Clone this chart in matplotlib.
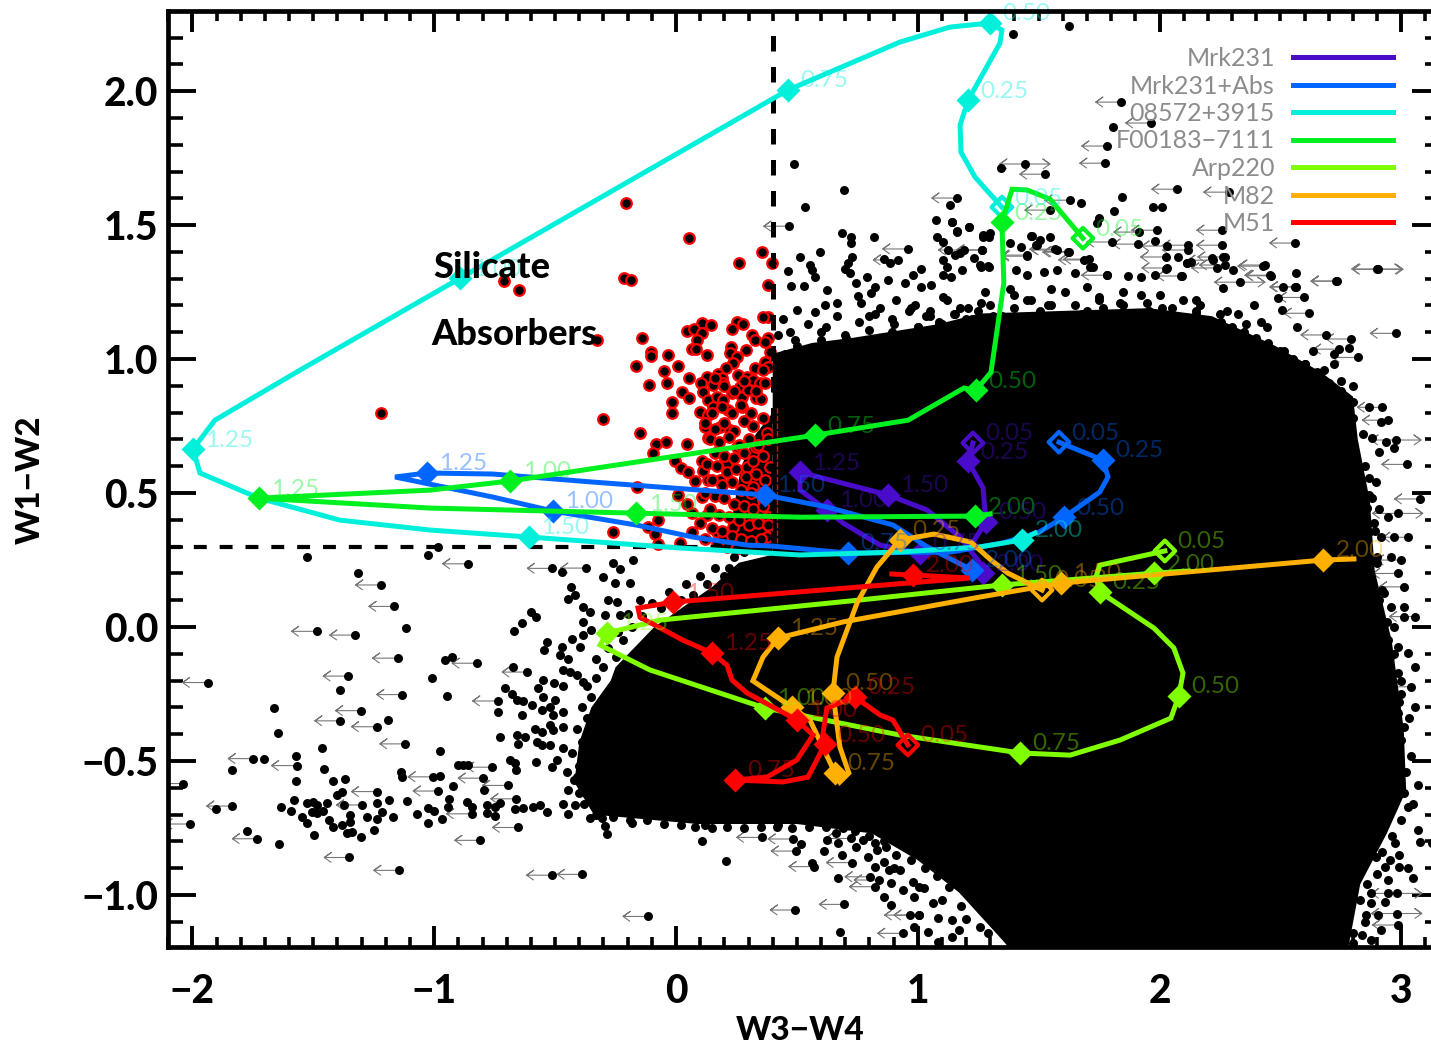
import matplotlib
matplotlib.use('Agg')
import matplotlib.pyplot as plt
from matplotlib.path import Path

# tracks: line vertices, then the labelled diamonds along them
purple_x = [1.228, 1.208, 1.27, 1.282, 1.228, 1.175, 1.009, 0.844, 0.691, 0.624, 0.513, 0.513, 0.877, 1.038, 1.175, 1.257, 1.27]
purple_y = [0.687, 0.619, 0.519, 0.392, 0.317, 0.285, 0.276, 0.306, 0.388, 0.437, 0.511, 0.578, 0.493, 0.437, 0.336, 0.239, 0.201]
purple_mx = [1.228, 1.208, 1.282, 1.009, 0.624, 0.513, 0.877, 1.27]
purple_my = [0.687, 0.619, 0.392, 0.276, 0.437, 0.578, 0.493, 0.201]

blue_x = [1.584, 1.766, 1.787, 1.753, 1.605, 1.501, 1.348, 1.137, 0.711, 0.401, 0.294, 0.07, -0.16, -0.509, -0.757, -1.162, -1.03, -0.757, -0.343, 0.368, 0.624, 0.897, 1.038, 1.224]
blue_y = [0.69, 0.623, 0.56, 0.504, 0.41, 0.354, 0.313, 0.28, 0.276, 0.302, 0.306, 0.336, 0.38, 0.433, 0.485, 0.56, 0.575, 0.571, 0.541, 0.493, 0.448, 0.381, 0.3, 0.213]
blue_mx = [1.584, 1.766, 1.605, 0.711, -0.509, -1.03, 0.368, 1.224]
blue_my = [0.69, 0.623, 0.41, 0.276, 0.433, 0.575, 0.493, 0.213]

cyan_x = [1.348, 1.237, 1.179, 1.175, 1.208, 1.34, 1.348, 1.299, 1.133, 0.926, 0.463, -0.893, -1.555, -1.907, -1.998, -1.969, -1.725, -1.39, -1.017, -0.608, 0.017, 0.513, 0.926, 1.257, 1.431, 1.485]
cyan_y = [1.567, 1.679, 1.772, 1.873, 1.966, 2.179, 2.228, 2.254, 2.239, 2.183, 2.004, 1.302, 0.959, 0.772, 0.664, 0.575, 0.481, 0.399, 0.362, 0.336, 0.295, 0.269, 0.28, 0.299, 0.325, 0.351]
cyan_mx = [1.348, 1.208, 1.299, 0.463, -0.893, -1.998, -0.608, 1.431]
cyan_my = [1.567, 1.966, 2.254, 2.004, 1.302, 0.664, 0.336, 0.325]

green_x = [1.683, 1.547, 1.452, 1.39, 1.348, 1.356, 1.303, 1.241, 1.191, 0.96, 0.575, -0.686, -1.017, -1.725, -1.017, -0.165, 0.513, 1.237, 1.299]
green_y = [1.451, 1.597, 1.631, 1.634, 1.511, 1.284, 0.951, 0.884, 0.892, 0.772, 0.716, 0.545, 0.511, 0.481, 0.444, 0.425, 0.41, 0.414, 0.422]
green_mx = [1.683, 1.348, 1.241, 0.575, -0.686, -1.725, -0.165, 1.237]
green_my = [1.451, 1.511, 0.884, 0.716, 0.545, 0.481, 0.425, 0.414]

lime_x = [2.022, 1.753, 1.737, 1.753, 1.977, 2.059, 2.097, 2.08, 2.047, 1.836, 1.63, 1.423, 0.926, 0.368, -0.108, -0.314, -0.285, -0.066, 0.761, 1.348, 1.977, 2.117]
lime_y = [0.284, 0.231, 0.187, 0.131, -0.004, -0.078, -0.172, -0.257, -0.34, -0.422, -0.478, -0.47, -0.403, -0.302, -0.16, -0.067, -0.022, 0.026, 0.101, 0.157, 0.201, 0.209]
lime_mx = [2.022, 1.753, 2.08, 1.423, 0.368, -0.285, 1.348, 1.977]
lime_my = [0.284, 0.131, -0.257, -0.47, -0.302, -0.022, 0.157, 0.201]

orange_x = [1.514, 1.373, 1.303, 1.22, 1.067, 0.926, 0.831, 0.749, 0.666, 0.649, 0.678, 0.715, 0.678, 0.658, 0.554, 0.48, 0.318, 0.36, 0.422, 0.691, 1.257, 1.592, 2.676, 2.804]
orange_y = [0.138, 0.201, 0.25, 0.317, 0.347, 0.325, 0.224, 0.09, -0.112, -0.246, -0.448, -0.545, -0.578, -0.545, -0.347, -0.299, -0.201, -0.112, -0.041, 0.019, 0.112, 0.164, 0.25, 0.254]
orange_mx = [1.514, 0.926, 0.649, 0.658, 0.48, 0.422, 1.592, 2.676]
orange_my = [0.138, 0.325, -0.246, -0.545, -0.299, -0.041, 0.164, 0.25]

red_x = [0.959, 0.897, 0.844, 0.74, 0.624, 0.604, 0.616, 0.546, 0.443, 0.244, 0.376, 0.5, 0.567, 0.5, 0.294, 0.232, 0.211, 0.149, 0.029, -0.149, -0.157, -0.012, 1.216, 0.98, 0.893]
red_y = [-0.44, -0.347, -0.328, -0.261, -0.302, -0.422, -0.437, -0.56, -0.578, -0.571, -0.56, -0.496, -0.403, -0.347, -0.246, -0.198, -0.142, -0.097, -0.049, 0.037, 0.071, 0.093, 0.183, 0.194, 0.198]
red_mx = [0.959, 0.74, 0.616, 0.244, 0.5, 0.149, -0.012, 0.98]
red_my = [-0.44, -0.261, -0.437, -0.571, -0.347, -0.097, 0.093, 0.194]

track_names = ['Mrk231', 'Mrk231+Abs', '08572+3915', 'F00183\u22127111', 'Arp220', 'M82', 'M51']
track_colors = ['#4A0CCB', '#0066FF', '#00F0DC', '#00F020', '#80FF00', '#FFB000', '#FF0000']
step_labels = ['0.05', '0.25', '0.50', '0.75', '1.00', '1.25', '1.50', '2.00']

# solid part of the source cloud, outline
cloud_x = [0.4, 0.562, 0.736, 1.084, 1.257, 1.609, 1.956, 2.217, 2.477, 2.67, 2.8, 2.82, 2.87, 2.89, 2.96, 3.01, 3.02, 2.94, 2.83, 2.78, 1.38, 1.35, 1.17, 1.0, 0.81, 0.5, 0.09, -0.34, -0.42, -0.4, -0.35, -0.27, -0.25, -0.09, 0.15, 0.26, 0.4]
cloud_y = [1.02, 1.06, 1.08, 1.13, 1.17, 1.18, 1.19, 1.16, 1.05, 0.95, 0.86, 0.7, 0.47, 0.21, -0.05, -0.38, -0.61, -0.77, -0.96, -1.2, -1.2, -1.168, -0.99, -0.87, -0.77, -0.735, -0.735, -0.7, -0.58, -0.43, -0.3, -0.2, -0.15, 0.0, 0.15, 0.24, 0.27]
core_x = [0.4, 0.33, 0.27, 0.24, 0.22, 0.3, 0.4]
core_y = [0.8, 0.72, 0.6, 0.45, 0.33, 0.28, 0.28]
red_edge_x = [0.418, 0.418]
red_edge_y = [0.313, 0.82]

# sources with an upper limit, arrow to the left
lim_x = [-0.861, -0.511, -0.373, -1.221, -1.166, -1.486, -1.328, -1.151, -0.822, -0.615, -1.937, -1.355, -1.134, -0.737, -1.304, -1.39, -1.238, -1.121, -1.748, -1.569, -0.762, -0.797, -1.004, -0.696, -1.238, -0.983, -1.837, -2.01, -1.731, -1.351, -1.146, -0.811, -0.655, -0.514, -0.387, -0.115, -1.3, -0.845, -0.662, -2.04,
         1.84, 1.964, 1.782, 1.774, 1.526, 2.072, 2.287, 1.629, 1.547, 1.162, 2.258, 2.56, 1.989, 1.915, 2.258, 2.73, 2.56, 2.428, 2.457, 2.27, 2.237, 2.262, 2.221, 2.117, 2.117, 2.031, 2.026, 2.031, 2.093, 1.782, 1.708, 1.621, 1.567, 1.452, 1.266, 1.803, 1.911,
         0.467, 0.959, 0.92, 1.19, 1.264, 1.452, 1.574, 1.626, 1.687, 2.436, 2.462, 2.563, 2.598, 2.619, 2.689, 2.793, 2.741, 2.819, 2.732, 2.976,
         2.922, 2.943, 3.023, 3.076, 3.027, 3.0, 3.013, 2.985, 3.055, 2.985, 3.04, 2.955,
         0.355, 0.485, 0.498, 0.571, 0.494, 0.697, 0.726, 0.722, 0.803, 0.841, 0.822, 0.967, 0.938, 1.005, 2.985]
lim_y = [0.236, 0.219, 0.22, 0.157, 0.077, -0.016, -0.03, -0.116, -0.135, -0.168, -0.207, -0.183, -0.252, -0.276, -0.312, -0.35, -0.372, -0.436, -0.491, -0.517, -0.523, -0.564, -0.559, -0.591, -0.614, -0.612, -0.668, -0.735, -0.79, -0.86, -0.908, -0.796, -0.748, -0.926, -0.923, -1.08, -0.664, -0.697, -0.641, -0.584,
         1.959, 1.881, 1.795, 1.731, 1.69, 1.634, 1.623, 1.593, 1.556, 1.601, 1.481, 1.433, 1.481, 1.474, 1.425, 1.291, 1.269, 1.347, 1.313, 1.351, 1.34, 1.381, 1.369, 1.425, 1.407, 1.422, 1.381, 1.34, 1.31, 1.313, 1.373, 1.399, 1.41, 1.384, 1.407, 1.437, 1.429,
         1.496, 1.411, 1.37, 1.407, 1.407, 1.388, 1.407, 1.401, 1.37, 1.351, 1.311, 1.27, 1.23, 1.171, 1.09, 1.075, 1.037, 1.006, 1.291, 1.096,
         0.82, 0.772, 0.607, 0.478, 0.335, 0.25, 0.15, 0.2, 0.039, -0.173, -0.223, -0.111,
         -0.785, -0.791, -0.836, -0.894, -1.056, -1.035, -0.879, -0.789, -0.932, -0.944, -0.969, -1.075, -1.143, -1.075, -1.112]
both_x = [2.899, 2.903, 2.978, 2.985, 2.981, 2.981, 1.443, 2.332]
both_y = [1.336, 1.335, 0.698, 0.424, -0.994, -1.069, 1.728, 1.287]

# plain detections around the solid cloud
pts_x = [-1.525, -1.314, -1.027, -0.983, -1.117, -0.955, -0.926, -1.008, -0.948, -1.39, -1.663, -1.647, -1.19, -1.465, -1.703, -1.573, -1.837, -1.454, -1.573, -1.417, -1.369, -1.137, -1.133, -0.976, -0.976, -0.921, -1.579, -1.634, -1.593, -1.904, -1.773, -1.643, -1.497, -1.304, -1.114,
         -1.527, -1.5, -1.486, -1.506, -1.486, -1.444, -1.458, -1.548, -1.527, -1.437, -1.417, -1.382, -1.403, -1.382, -1.375, -1.348, -1.348, -1.362, -1.341, -1.279, -1.238, -1.217, -1.249, -1.235, -1.171, -1.189,
         -1.072, -1.024, -1.0, -1.024, -0.969, -0.938, -0.941, -0.865, -0.845, -0.796, -0.783, -0.748, -0.783, -0.748, -0.727, -0.666, -0.631, -0.59, -0.562, -0.534, -0.466, -0.417, -0.445, -0.355, -0.304, -0.284, -0.293,
         -0.9, -0.879, -0.859, -0.686, -0.665, -0.663, -0.727, -0.659, -0.624, -0.654, -0.579, -0.672, -0.635, -0.601, -0.58, -0.675, -0.707, -0.679, -0.659, -0.631, -0.597, -0.738, -0.638,
         -0.544, -0.532, -0.473, -0.397, -0.479, -0.445, -0.431, -0.383, -0.353, -0.383, -0.445, -0.417, -0.433, -0.383, -0.355, -0.3, -0.252, -0.259, -0.231, -0.176, -0.47, -0.28, -0.245, -0.293, -0.231, -0.19, -0.466, -0.438, -0.504, -0.569, -0.548, -0.466, -0.41, -0.383, -0.548, -0.5, -0.521, -0.555, -0.507, -0.466, -0.583, -0.555, -0.521, -0.466, -0.507, -0.576, -0.555, -0.521, -0.466, -0.493, -0.514, -0.452, -0.41, -0.445, -0.348, -0.328, -0.217, -0.183, -0.245,
         1.394, 1.625, 1.807, 1.344, 1.973, 2.01, 1.811, 1.675, 1.133, 1.749, 1.741, 2.076, 2.113, 1.981, 1.725, 1.27, 1.299, 1.212, 1.141, 1.162, 1.472, 1.493, 1.381, 1.121, 1.175, 1.257, 1.29, 1.844,
         0.49, 0.694, 0.532, 0.685, 0.723, 0.723, 0.821, 0.595, 0.514, 0.859, 0.886, 0.729, 0.711, 0.699, 0.72, 0.555, 0.563, 0.577, 0.462, 0.476, 0.528, 0.624, 0.746, 0.751, 0.79, 0.825, 0.807, 0.877, 0.947, 1.013, 1.056, 0.981, 1.013, 0.502, 0.577, 0.615, 0.668, 1.077, 1.142, 1.081, 1.103, 1.126, 1.156, 1.213, 1.164, 1.103, 1.234, 1.295, 1.269, 1.425, 1.469, 1.504, 1.548, 1.487, 1.103, 1.138, 1.182, 1.26, 1.295,
         1.408, 1.452, 1.521, 1.574, 1.652, 1.713, 1.783, 1.87, 1.922, 1.983, 2.027, 2.088, 2.114, 2.131, 2.218, 2.27, 2.305, 2.511, 2.563, 2.262, 2.488, 2.506, 2.785,
         0.764, 0.842, 0.912, 0.99, 1.051, 1.103, 1.173, 1.26, 1.399, 1.469, 1.539, 1.609, 1.748, 1.835, 1.922, 2.009, 2.096, 2.166, 2.323, 2.392,
         0.441, 0.546, 0.668, 0.755, 0.825, 0.894, 0.964, 1.034, 1.086, 1.156, 1.208, 1.312, 1.504, 1.591, 1.678, 1.765, 1.87, 1.957, 2.061, 2.149, 2.253, 2.358, 2.445, 2.567,
         0.424, 0.493, 0.598, 0.703, 0.79, 0.894, 0.999, 1.086, 1.225, 2.2, 2.305, 2.41, 2.515, 2.636, 2.72, 2.6, 2.68, 2.75,
         2.866, 2.915, 2.936, 2.88, 2.908, 2.971, 2.894, 2.866, 2.866, 2.908, 2.859, 2.943, 2.887, 2.971, 2.915, 2.866, 2.957, 2.9, 2.929, 2.908, 2.957, 3.013, 2.971, 3.013, 2.943, 2.985, 3.027, 3.055, 3.0, 3.055, 2.985, 3.013,
         3.068, 3.01, 3.029, 3.068, 3.126, 3.078, 2.972, 2.991, 3.029, 3.049, 2.943, 2.875, 2.943, 2.875, 2.933, 2.904, 2.856, 2.914, 2.875, 2.837, 2.933, 2.894, 2.952,
         0.118, 0.109, 0.205, 0.417, 0.519, 0.614, 0.623, 0.562, 0.672, 0.677, 0.662, 0.672, 0.687, 0.745, 0.774, 0.822, 0.832, 0.87, 0.793, 0.822, 0.861, 0.88, 0.928, 0.89, 0.938, 0.986, 0.861, 0.89, 1.024, 1.063, 1.005, 1.082, 0.986, 1.044, 1.082, 1.14, 1.169, 1.14, 1.256, 1.005]
pts_y = [0.262, 0.2, 0.27, 0.3, -0.004, -0.124, -0.11, -0.19, -0.258, -0.235, -0.301, -0.396, -0.348, -0.45, -0.494, -0.481, -0.532, -0.531, -0.574, -0.575, -0.566, -0.54, -0.559, -0.462, -0.555, -0.595, -0.646, -0.671, -0.687, -0.68, -0.761, -0.808, -0.777, -0.782, -0.649,
         -0.656, -0.652, -0.664, -0.689, -0.695, -0.658, -0.687, -0.708, -0.733, -0.72, -0.745, -0.739, -0.627, -0.614, -0.664, -0.702, -0.726, -0.77, -0.766, -0.708, -0.658, -0.692, -0.757, -0.716, -0.708, -0.646,
         -0.698, -0.674, -0.685, -0.733, -0.718, -0.642, -0.673, -0.652, -0.67, -0.608, -0.664, -0.67, -0.695, -0.705, -0.658, -0.68, -0.677, -0.67, -0.664, -0.689, -0.662, -0.664, -0.699, -0.711, -0.714, -0.773, -0.743,
         -0.515, -0.515, -0.515, -0.496, -0.509, -0.534, -0.409, -0.403, -0.409, -0.438, -0.503, -0.015, 0.016, 0.057, 0.036, -0.149, -0.229, -0.251, -0.272, -0.276, -0.291, -0.318, -0.328,
         -0.086, -0.055, -0.073, -0.073, -0.105, -0.119, -0.045, -0.03, -0.011, 0.02, 0.103, 0.12, 0.15, 0.076, 0.057, 0.185, 0.165, 0.24, 0.215, 0.25, 0.204, 0.101, 0.095, 0.045, 0.045, 0.163, -0.16, -0.167, -0.207, -0.226, -0.198, -0.219, -0.179, -0.204, -0.262, -0.272, -0.297, -0.31, -0.328, -0.316, -0.382, -0.393, -0.366, -0.372, -0.384, -0.43, -0.44, -0.44, -0.453, -0.496, -0.521, -0.54, -0.558, -0.608, -0.608, -0.683, -0.689, -0.73, -0.67,
         2.213, 2.243, 1.866, 1.713, 1.567, 1.567, 1.552, 1.582, 1.575, 1.526, 1.507, 1.381, 1.358, 1.44, 1.343, 1.455, 1.47, 1.493, 1.511, 1.474, 1.459, 1.425, 1.433, 1.343, 1.396, 1.351, 1.347, 1.604,
         1.728, 1.631, 1.566, 1.469, 1.454, 1.432, 1.454, 1.401, 1.382, 1.373, 1.357, 1.382, 1.357, 1.338, 1.322, 1.351, 1.332, 1.307, 1.33, 1.273, 1.273, 1.258, 1.283, 1.235, 1.307, 1.268, 1.248, 1.295, 1.285, 1.27, 1.275, 1.314, 1.335, 1.183, 1.174, 1.202, 1.208, 1.519, 1.513, 1.454, 1.438, 1.407, 1.388, 1.494, 1.479, 1.37, 1.376, 1.457, 1.463, 1.417, 1.459, 1.444, 1.454, 1.425, 1.314, 1.307, 1.332, 1.345, 1.345,
         1.332, 1.314, 1.326, 1.332, 1.32, 1.345, 1.314, 1.31, 1.307, 1.314, 1.338, 1.31, 1.357, 1.363, 1.376, 1.382, 1.332, 1.27, 1.322, 1.266, 1.229, 1.183, 1.04,
         1.21, 1.19, 1.22, 1.2, 1.18, 1.23, 1.19, 1.21, 1.24, 1.22, 1.2, 1.25, 1.23, 1.21, 1.24, 1.19, 1.22, 1.2, 1.17, 1.2,
         1.15, 1.13, 1.16, 1.14, 1.17, 1.15, 1.18, 1.16, 1.14, 1.17, 1.19, 1.16, 1.18, 1.15, 1.17, 1.19, 1.16, 1.18, 1.15, 1.17, 1.14, 1.13, 1.12, 1.12,
         1.09, 1.07, 1.1, 1.08, 1.06, 1.1, 1.12, 1.13, 1.15, 1.09, 1.07, 1.05, 1.03, 1.03, 1.02, 0.98, 0.96, 0.92,
         0.822, 0.766, 0.692, 0.704, 0.654, 0.667, 0.542, 0.555, 0.492, 0.439, 0.443, 0.412, 0.387, 0.335, 0.337, 0.356, 0.262, 0.262, 0.126, 0.1, 0.076, 0.076, 0.001, 0.039, -0.049, -0.073, -0.098, -0.148, -0.248, -0.297, -0.322, -0.372,
         -0.59, -0.621, -0.67, -0.758, -0.807, -0.801, -0.807, -0.894, -0.901, -0.938, -0.944, -0.994, -0.994, -1.031, -1.025, -1.075, -1.075, -1.131, -1.168, -1.149, -0.894, -0.857, -0.869,
         -0.739, -0.799, -0.872, -0.748, -0.81, -0.835, -0.795, -0.882, -0.938, -1.137, -0.768, -0.807, -0.851, -0.82, -0.795, -0.807, -0.832, -0.82, -0.857, -0.897, -0.876, -0.907, -0.907, -0.957, -0.981, -1.006, -1.006, -1.037, -0.975, -1.031, -1.075, -1.087, -1.118, -1.137, -1.174, -1.093, -1.131, -1.156, -1.118, -0.969]

# crowded points hugging the edge of the solid cloud
edge_x = [0.45, 0.5, 0.55, 0.6, 0.65, 0.7, 0.75, 0.8, 0.85, 0.9, 0.95, 1.0, 1.05, 1.1, 1.15, 1.2, 1.25, 1.3, 1.35, 1.4, 1.45, 1.5, 1.55, 1.6, 1.65, 1.7, 1.75, 1.8, 1.85, 1.9, 1.95, 2.0, 2.05, 2.1, 2.15, 2.2, 2.25, 2.3, 2.35, 2.4, 2.45, 2.5, 2.55, 2.6, 2.65, 2.7, 2.75, 2.8, 2.72, 2.8,
          0.47, 0.62, 0.8, 0.97, 1.12, 1.28, 1.38, 1.55, 1.7, 1.85, 2.0, 2.15, 2.28, 2.42,
          2.8, 2.84, 2.79, 2.85, 2.83, 2.88, 2.84, 2.89, 2.85, 2.9, 2.87, 2.92, 2.88, 2.94, 2.92, 2.97, 2.95, 3.0, 2.99, 3.03, 3.0, 3.04, 3.02, 3.05, 3.0, 2.96, 2.99, 2.92, 2.9, 2.86, 2.83, 2.85, 2.8, 2.78, 2.8,
          1.4, 1.34, 1.29, 1.3, 1.24, 1.18, 1.2, 1.13, 1.08, 1.1, 1.03, 0.97, 0.98, 0.91, 0.86, 0.9, 0.8, 0.74, 0.69, 0.62, 0.55, 0.48, 0.42, 0.35, 0.28, 0.21, 0.15, 0.08, 0.02, -0.05, -0.12, -0.19, -0.26, -0.33, -0.38,
          -0.4, -0.42, -0.4, -0.43, -0.39, -0.41, -0.37, -0.39, -0.35, -0.37, -0.33, -0.3, -0.33, -0.28, -0.25, -0.22, -0.24, -0.18, -0.2, -0.14, -0.1, -0.15, -0.06, -0.03, 0.02, 0.04, 0.07, 0.1, 0.13, 0.16, 0.2, 0.24, 0.22, 0.28, -0.34, -0.36, -0.3, -0.28]
edge_y = [1.02, 1.05, 1.0, 1.07, 1.03, 1.09, 1.06, 1.11, 1.07, 1.13, 1.09, 1.12, 1.16, 1.13, 1.17, 1.15, 1.18, 1.2, 1.16, 1.19, 1.22, 1.17, 1.2, 1.16, 1.2, 1.18, 1.22, 1.17, 1.2, 1.17, 1.21, 1.16, 1.19, 1.15, 1.18, 1.14, 1.17, 1.12, 1.1, 1.08, 1.06, 1.03, 1.0, 0.98, 0.95, 0.91, 0.88, 0.84, 0.98, 0.9,
          1.1, 1.12, 1.16, 1.19, 1.22, 1.25, 1.26, 1.26, 1.27, 1.25, 1.24, 1.22, 1.18, 1.14,
          0.78, 0.72, 0.66, 0.6, 0.54, 0.48, 0.42, 0.36, 0.3, 0.24, 0.18, 0.14, 0.08, 0.02, -0.04, -0.1, -0.16, -0.2, -0.28, -0.34, -0.42, -0.48, -0.54, -0.66, -0.72, -0.78, -0.85, -0.84, -0.92, -0.96, -1.02, -1.1, -1.14, -1.06, -1.18,
          -1.12, -1.07, -1.14, -1.03, -1.0, -1.04, -1.09, -0.97, -0.93, -1.02, -0.9, -0.87, -0.95, -0.85, -0.8, -0.9, -0.78, -0.76, -0.75, -0.745, -0.745, -0.75, -0.74, -0.745, -0.75, -0.745, -0.75, -0.745, -0.74, -0.735, -0.72, -0.72, -0.71, -0.7, -0.66,
          -0.62, -0.57, -0.52, -0.47, -0.43, -0.38, -0.34, -0.3, -0.26, -0.22, -0.19, -0.15, -0.12, -0.08, -0.11, -0.05, -0.02, 0.0, 0.05, 0.04, 0.09, 0.1, 0.07, 0.13, 0.1, 0.16, 0.12, 0.19, 0.16, 0.22, 0.19, 0.26, 0.22, 0.28, -0.5, -0.6, -0.4, -0.27]

# red = silicate absorber candidates, left of the dashed line
red_pts_x = [-1.22, -0.207, 0.052, 0.354, 0.262, 0.398, -0.215, -0.188, -0.71, -0.65, 0.382, 0.382, 0.361, 0.106, 0.143, 0.044, 0.075, 0.106, 0.251, 0.278, 0.23, -0.142, -0.328, 0.313, 0.327, 0.382, 0.368, 0.085, 0.065, 0.082, -0.105, -0.105, -0.035, 0.127, 0.226, 0.223, 0.289, 0.251, 0.237, 0.389, -0.166, 0.007, -0.05, 0.207, 0.368, 0.382, 0.175, 0.189, 0.196, 0.129, 0.103, 0.154, 0.052, -0.039, -0.113, 0.258, 0.292, 0.327, 0.361, 0.023, 0.055, 0.11, -0.018, -0.015, -0.301, 0.099, 0.133, 0.168, 0.23, 0.264, 0.32, 0.347, 0.333, 0.271, 0.299, 0.196, 0.216, 0.275, 0.133, 0.154,
             -0.149, -0.083, -0.042, -0.097, 0.044, -0.004, 0.02, 0.051, 0.078, 0.106, 0.113, 0.133, 0.133, 0.12, 0.182, -0.16, 0.009, 0.044, 0.106, 0.127, 0.182, 0.209, 0.251, 0.292, 0.333, 0.223, 0.065, 0.065, -0.073, -0.115, -0.087, -0.259, -0.073, 0.016, 0.168, 0.195, 0.237, 0.292, 0.361, 0.375, 0.388, 0.375, 0.38, 0.32,
             0.12, 0.16, 0.2, 0.24, 0.28, 0.32, 0.36, 0.14, 0.18, 0.22, 0.26, 0.3, 0.34, 0.38, 0.16, 0.2, 0.24, 0.28, 0.32, 0.36, 0.13, 0.17, 0.21, 0.25, 0.29, 0.33, 0.37, 0.15, 0.19, 0.23, 0.27, 0.31, 0.35, 0.12, 0.16, 0.2, 0.24, 0.28, 0.32, 0.36, 0.14, 0.18, 0.22, 0.26, 0.3, 0.34, 0.38, 0.1, 0.15, 0.19, 0.23, 0.27, 0.31, 0.35, 0.12, 0.17, 0.21, 0.25, 0.15, 0.19, 0.23, 0.27, 0.31, 0.35, 0.2, 0.24, 0.28, 0.33, 0.37, 0.16]
red_pts_y = [0.8, 1.581, 1.452, 1.401, 1.36, 1.36, 1.301, 1.297, 1.291, 1.258, 1.275, 1.158, 1.158, 1.136, 1.127, 1.106, 1.112, 1.096, 1.137, 1.131, 1.112, 1.08, 1.071, 1.09, 1.071, 1.077, 1.065, 1.071, 1.036, 1.036, 1.027, 1.011, 1.015, 1.015, 1.046, 1.021, 1.034, 1.009, 0.984, 1.027, 0.976, 0.974, 0.957, 0.965, 0.99, 0.971, 0.944, 0.928, 0.912, 0.934, 0.912, 0.903, 0.929, 0.909, 0.903, 0.94, 0.934, 0.965, 0.959, 0.878, 0.853, 0.878, 0.841, 0.8, 0.775, 0.804, 0.847, 0.86, 0.872, 0.897, 0.922, 0.909, 0.853, 0.86, 0.884, 0.847, 0.81, 0.82, 0.791, 0.822,
             0.726, 0.683, 0.689, 0.648, 0.682, 0.619, 0.592, 0.58, 0.545, 0.619, 0.582, 0.548, 0.704, 0.747, 0.747, 0.524, 0.492, 0.461, 0.486, 0.418, 0.548, 0.611, 0.673, 0.598, 0.673, 0.735, 0.424, 0.356, 0.399, 0.374, 0.349, 0.353, 0.31, 0.312, 0.356, 0.337, 0.374, 0.399, 0.474, 0.337, 0.598, 0.723, 0.412, 0.524,
             0.76, 0.74, 0.76, 0.73, 0.77, 0.75, 0.78, 0.7, 0.69, 0.71, 0.68, 0.7, 0.68, 0.7, 0.65, 0.64, 0.63, 0.65, 0.62, 0.64, 0.61, 0.6, 0.58, 0.59, 0.56, 0.57, 0.55, 0.55, 0.53, 0.54, 0.51, 0.5, 0.5, 0.5, 0.49, 0.48, 0.46, 0.45, 0.44, 0.45, 0.44, 0.42, 0.41, 0.4, 0.38, 0.39, 0.38, 0.39, 0.37, 0.36, 0.34, 0.33, 0.32, 0.33, 0.33, 0.31, 0.3, 0.29, 0.8, 0.82, 0.8, 0.83, 0.8, 0.85, 0.9, 0.88, 0.92, 0.88, 0.91, 0.93]

x_ticks = [-2, -1, 0, 1, 2, 3]
x_ticklabels = ['\u22122', '\u22121', '0', '1', '2', '3']
y_ticks = [-1.0, -0.5, 0.0, 0.5, 1.0, 1.5, 2.0]
y_ticklabels = ['\u22121.0', '\u22120.5', '0.0', '0.5', '1.0', '1.5', '2.0']

W, H = 1431, 1047
fig = plt.figure(figsize=(W/100, H/100), dpi=100)
ax = fig.add_axes([168/W, 1-947/H, (1440-168)/W, (947-11)/H])
ax.set_xlim(-2.101, 3.16)
ax.set_ylim(-1.194, 2.299)

# arrow markers, rescaled by matplotlib so the tail sits on the point
left_arrow = Path([(0, 0), (-1, 0), (-0.72, 0.2), (-1, 0), (-0.72, -0.2)])
right_arrow = Path([(0, 0), (1, 0), (0.72, 0.2), (1, 0), (0.72, -0.2)])

ax.fill(core_x, core_y, color='k', lw=0, zorder=1)
ax.scatter(red_pts_x, red_pts_y, s=58, c='k', edgecolors='#FF0000', linewidths=1.6, zorder=2)
ax.scatter(lim_x, lim_y, s=1300, marker=left_arrow, facecolors='none', edgecolors='#777777', linewidths=0.8, zorder=2.5)
ax.scatter(both_x, both_y, s=1300, marker=left_arrow, facecolors='none', edgecolors='#777777', linewidths=0.8, zorder=2.5)
ax.scatter(both_x, both_y, s=1300, marker=right_arrow, facecolors='none', edgecolors='#777777', linewidths=0.8, zorder=2.5)
ax.fill(cloud_x, cloud_y, color='k', lw=0, zorder=3)
ax.scatter(pts_x + edge_x + lim_x + both_x, pts_y + edge_y + lim_y + both_y, s=42, c='k', linewidths=0, zorder=3)
ax.plot(red_edge_x, red_edge_y, color='#FF0000', lw=1, ls=(0, (4, 1.5)), zorder=3.5)

# dashed selection box
dash = (0, (3.1, 3.1))
ax.plot([-2.101, 0.4], [0.3, 0.3], color='k', lw=3, ls=dash, dash_capstyle='butt', zorder=4)
ax.plot([0.4, 0.4], [0.3, 2.22], color='k', lw=3.6, ls=dash, dash_capstyle='butt', zorder=4)

tracks = [(purple_x, purple_y, purple_mx, purple_my),
          (blue_x, blue_y, blue_mx, blue_my),
          (cyan_x, cyan_y, cyan_mx, cyan_my),
          (green_x, green_y, green_mx, green_my),
          (lime_x, lime_y, lime_mx, lime_my),
          (orange_x, orange_y, orange_mx, orange_my),
          (red_x, red_y, red_mx, red_my)]
draw_order = [3, 2, 0, 1, 4, 5, 6]

handles = {}
for i in draw_order:
    tx, ty, mx, my = tracks[i]
    col = track_colors[i]
    line, = ax.plot(tx, ty, color=col, lw=3.6, label=track_names[i], zorder=5+i*0.1, solid_joinstyle='miter')
    handles[i] = line
    # first point of each track is the open diamond
    ax.scatter(mx[:1], my[:1], s=110, marker='D', facecolors='none', edgecolors=col, linewidths=3, zorder=5+i*0.1)
    ax.scatter(mx[1:], my[1:], s=150, marker='D', color=col, linewidths=0, zorder=5+i*0.1)
    for xx, yy, lab in zip(mx, my, step_labels):
        ax.annotate(lab, (xx, yy), xytext=(9, -1), textcoords='offset points', color=col, alpha=0.4,
                    fontsize=17.5, family='Lato', weight='normal', va='bottom', ha='left', zorder=7)

ax.text(-1.005, 1.343, 'Silicate', fontsize=26, family='Lato', weight='black', va='center', ha='left', zorder=8)
ax.text(-1.01, 1.093, 'Absorbers', fontsize=26, family='Lato', weight='black', va='center', ha='left', zorder=8)

leg = ax.legend([handles[i] for i in range(7)], track_names, frameon=False, markerfirst=False,
                loc='upper right', bbox_to_anchor=(1393/W, 1-47/H), bbox_transform=fig.transFigure,
                borderaxespad=0, borderpad=0, handlelength=4.0, handletextpad=0.72,
                labelspacing=0.18, labelcolor='#8C8C8C', prop={'family': 'Lato', 'weight': 'normal', 'size': 18})
leg.set_zorder(9)

ax.set_xticks(x_ticks)
ax.set_xticklabels(x_ticklabels, family='Lato', weight='black', fontsize=28)
ax.set_yticks(y_ticks)
ax.set_yticklabels(y_ticklabels, family='Lato', weight='black', fontsize=28)
ax.set_xticks([v/10 for v in range(-21, 32)], minor=True)
ax.set_yticks([v/10 for v in range(-11, 23)], minor=True)
ax.tick_params(axis='x', which='major', direction='in', top=True, bottom=True, length=15, width=2.8, pad=19)
ax.tick_params(axis='x', which='minor', direction='in', top=True, bottom=True, length=7.5, width=2.6)
ax.tick_params(axis='y', which='major', direction='in', left=True, right=True, length=20, width=2.8, pad=7)
ax.tick_params(axis='y', which='minor', direction='in', left=True, right=True, length=11, width=2.6)
for s in ax.spines.values():
    s.set_linewidth(3.4)
    s.set_zorder(10)

ax.set_xlabel('W3\u2212W4', family='Lato', weight='black', fontsize=24, va='center')
ax.xaxis.set_label_coords((800-168)/1272, -(1031-947)/936)
ax.set_ylabel('W1\u2212W2', family='Lato', weight='black', fontsize=24, va='center')
ax.yaxis.set_label_coords((30-168)/1272, (947-480)/936)

fig.savefig('out.png', dpi=100)
